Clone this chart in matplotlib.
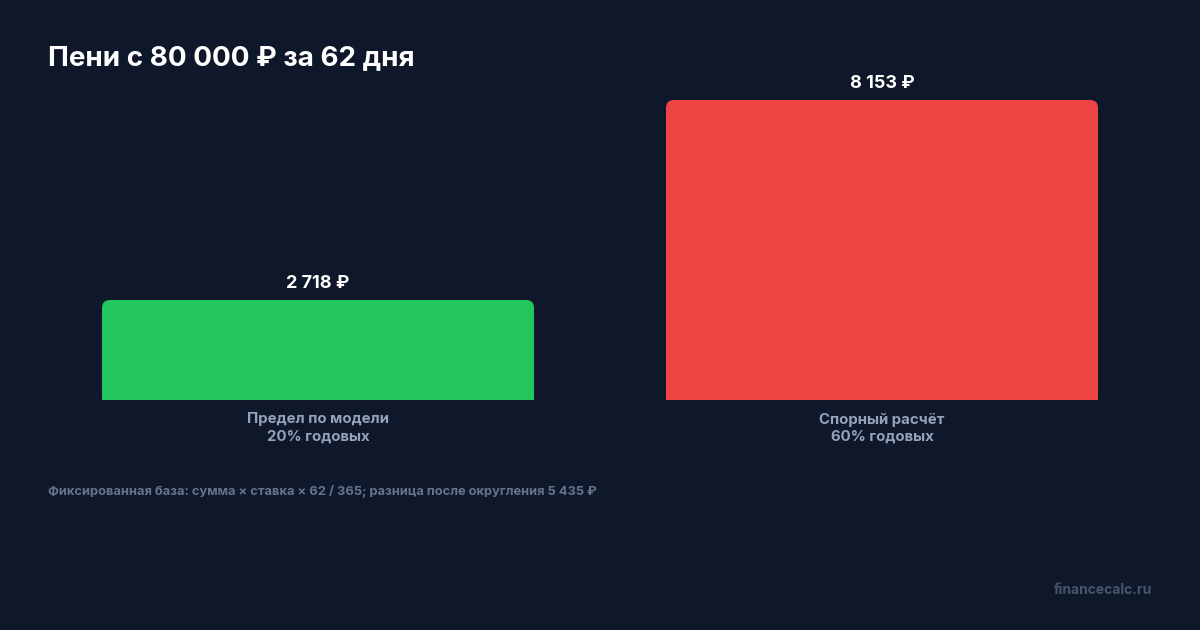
import matplotlib
matplotlib.use("Agg")
import matplotlib.pyplot as plt
from matplotlib.patches import FancyBboxPatch

plt.rcParams['font.family'] = ['Inter', 'DejaVu Sans']

title = "Пени с 80 000 ₽ за 62 дня"
categories = ["Предел по модели\n20% годовых", "Спорный расчёт\n60% годовых"]
values = [2718, 8153]
value_labels = ["2 718 ₽", "8 153 ₽"]
bar_colors = ["#22c55e", "#ef4444"]
footnote = "Фиксированная база: сумма × ставка × 62 / 365; разница после округления 5 435 ₽"
watermark = "financecalc.ru"

BG = "#0f172a"

fig = plt.figure(figsize=(12, 6.3), dpi=100, facecolor=BG)
# axes covers the bar area: x 48..1152 px, y 100..400 px
ax = fig.add_axes([48 / 1200, 1 - 400 / 630, 1104 / 1200, 300 / 630])
ax.set_facecolor(BG)
ax.set_xlim(-0.4787, 1.4787)
ax.set_ylim(0, max(values))
for s in ax.spines.values():
    s.set_visible(False)
ax.set_xticks([])
ax.set_yticks([])

width = 0.766
xs = range(len(values))
bars = ax.bar(xs, [v / 2 for v in values], width=width, color=bar_colors, linewidth=0)

# rounded tops (radius ~8 px)
x_per_px = (ax.get_xlim()[1] - ax.get_xlim()[0]) / 1104
y_per_px = max(values) / 300
r = 8 * x_per_px
for x, v, c in zip(xs, values, bar_colors):
    p = FancyBboxPatch((x - width / 2, 0), width, v,
                       boxstyle=f"round,pad=0,rounding_size={r}",
                       mutation_aspect=y_per_px / x_per_px,
                       facecolor=c, edgecolor="none")
    ax.add_patch(p)
    ax.annotate(value_labels[x], (x, v), xytext=(0, 6), textcoords="offset points",
                ha="center", va="bottom", color="white", fontsize=13, fontweight="bold")

for x, cat in zip(xs, categories):
    ax.annotate(cat, (x, 0), xytext=(0, -9), textcoords="offset points",
                ha="center", va="top", color="#94a3b8", fontsize=10.8,
                fontweight="bold", linespacing=1.3)

fig.text(48 / 1200, 1 - 58 / 630, title, color="white", fontsize=20,
         fontweight="bold", ha="left", va="center")
fig.text(48 / 1200, 1 - 491 / 630, footnote, color="#64748b", fontsize=9.3,
         fontweight="bold", ha="left", va="center")
fig.text(1152 / 1200, 1 - 590 / 630, watermark, color="#475569", fontsize=10,
         fontweight="bold", ha="right", va="center")

fig.savefig("out.png", dpi=100, facecolor=BG)
